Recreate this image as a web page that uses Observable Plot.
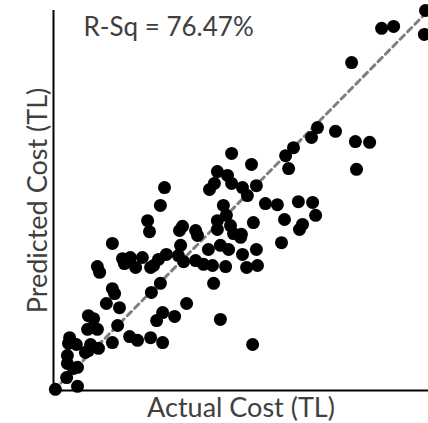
<!DOCTYPE html>
<html>
<head>
<meta charset="utf-8">
<script src="https://cdn.jsdelivr.net/npm/d3@7"></script>
<script src="https://cdn.jsdelivr.net/npm/@observablehq/plot@0.6"></script>
<style>
  html, body { margin: 0; padding: 0; background: #fff; }
  #chart { width: 428px; height: 423px; }
</style>
</head>
<body>
<div id="chart"></div>
<script>
// Actual vs predicted cost (relative units, 0–100)
const actual = [
  99.2, 87.5, 90.7, 98.9, 79.5, 70.4, 68.8, 75.2, 80.5, 84.3,
  80.8, 64.0, 61.9, 62.7, 52.8, 47.5, 54.1, 50.4, 47.5, 51.7,
  56.5, 59.7, 65.3, 69.1, 61.6, 69.9, 66.4, 65.6, 53.3, 50.1,
  60.8, 50.4, 54.1, 51.5, 54.4, 53.1, 29.6, 43.7, 46.4, 42.9,
  41.6, 28.5, 25.1, 25.6, 34.4, 33.6, 37.9, 38.4, 45.3, 46.1,
  43.7, 43.7, 47.2, 48.0, 49.9, 46.7, 44.5, 41.3, 33.9, 15.7,
  11.7, 12.3, 18.4, 20.5, 18.9, 21.9, 23.7, 25.9, 26.7, 28.0,
  30.1, 33.3, 34.7, 37.9, 40.0, 42.4, 45.9, 42.7, 28.5, 26.1,
  15.7, 16.3, 35.5, 29.1, 27.5, 32.3, 44.5, 25.9, 29.1, 20.3,
  22.4, 14.1, 17.6, 9.3, 10.7, 9.1, 11.7, 17.1, 4.3, 4.0,
  6.1, 9.9, 9.3, 12.0, 15.7, 3.7, 3.7, 5.3, 6.4, 3.5,
  0.5, 6.4, 8.5
];
const predicted = [
  100.0, 95.3, 95.8, 93.7, 86.3, 69.2, 66.6, 68.2, 65.5, 65.3,
  58.2, 63.9, 61.8, 58.4, 59.5, 62.4, 53.9, 53.4, 54.5, 51.3,
  49.2, 48.9, 49.7, 49.5, 45.0, 46.1, 43.7, 42.4, 44.2, 41.1,
  38.9, 35.8, 37.1, 32.4, 32.9, 12.1, 53.4, 57.6, 56.6, 54.5,
  52.9, 48.7, 44.7, 41.8, 43.2, 42.1, 42.1, 40.8, 48.7, 46.1,
  44.7, 42.4, 43.4, 41.3, 40.3, 37.1, 38.2, 37.1, 38.2, 38.7,
  32.6, 31.1, 34.7, 35.0, 33.4, 32.4, 35.0, 32.4, 32.9, 34.5,
  35.8, 35.5, 33.9, 34.2, 33.2, 32.9, 32.6, 28.2, 28.2, 25.8,
  26.8, 25.5, 22.9, 20.5, 18.4, 19.5, 18.7, 13.9, 12.6, 14.2,
  13.2, 22.9, 21.8, 19.7, 18.9, 16.1, 16.1, 17.1, 13.9, 12.4,
  12.1, 12.1, 10.5, 11.1, 12.6, 9.2, 7.1, 5.8, 6.1, 3.4,
  0.3, 1.1, 10.0
];
const refLine = [0, 99];
const titleText = "R-Sq = 76.47%";
const xLabel = "Actual Cost (TL)";
const yLabel = "Predicted Cost (TL)";

const points = actual.map((a, i) => ({actual: a, predicted: predicted[i]}));
const lineData = refLine.map(v => ({x: v, y: v}));

const font = "Lato, 'Open Sans', sans-serif";
const textColor = "#404040";

const chart = Plot.plot({
  width: 428,
  height: 423,
  marginLeft: 53,
  marginRight: 0,
  marginTop: 10,
  marginBottom: 33,
  style: {fontFamily: font, background: "#fff", overflow: "visible"},
  x: {domain: [0, 100], axis: null},
  y: {domain: [0, 100], axis: null},
  marks: [
    Plot.line(lineData, {x: "x", y: "y", stroke: "#7f7f7f", strokeWidth: 3, strokeDasharray: "6,4.5"}),
    Plot.dot(points, {x: "actual", y: "predicted", r: 6.5, fill: "#000", stroke: "none"}),
    Plot.ruleX([0], {stroke: "#000", strokeWidth: 2}),
    Plot.ruleY([0], {stroke: "#000", strokeWidth: 2, x1: 0, x2: 100}),
    Plot.text([titleText], {frameAnchor: "top-left", dx: 30, dy: 7, textAnchor: "start", lineAnchor: "top",
      fontSize: 26, fill: textColor, fontFamily: font}),
    Plot.text([xLabel], {frameAnchor: "bottom", dy: 7, lineAnchor: "top",
      fontSize: 27, fill: textColor, fontFamily: font}),
    Plot.text([yLabel], {frameAnchor: "left", dx: -15, rotate: -90, lineAnchor: "middle", textAnchor: "middle",
      fontSize: 27, fill: textColor, fontFamily: font})
  ]
});
document.getElementById("chart").appendChild(chart);
</script>
</body>
</html>
